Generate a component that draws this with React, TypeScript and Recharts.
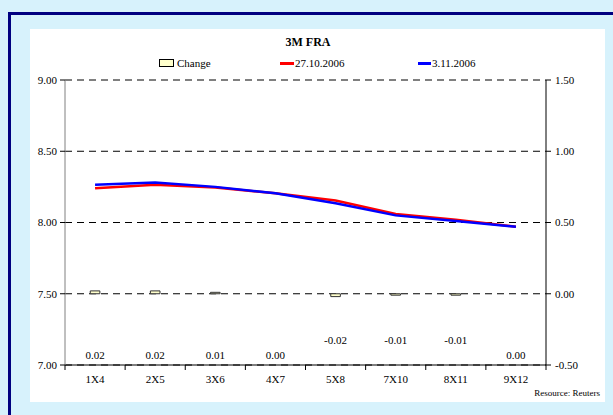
import React from "react";
import {
  Bar,
  CartesianGrid,
  ComposedChart,
  LabelList,
  Line,
  XAxis,
  YAxis,
} from "recharts";

const categories = ["1X4", "2X5", "3X6", "4X7", "5X8", "7X10", "8X11", "9X12"];
const changeValues = [0.02, 0.02, 0.01, 0.0, -0.02, -0.01, -0.01, 0.0];
const rateOct27 = [8.24, 8.265, 8.245, 8.205, 8.155, 8.06, 8.02, 7.97];
const rateNov3 = [8.265, 8.28, 8.25, 8.205, 8.135, 8.05, 8.01, 7.97];
const rateTicks = [7, 7.5, 8, 8.5, 9];
const changeTicks = [-0.5, 0, 0.5, 1, 1.5];

const data = categories.map((name, i) => ({
  name,
  change: changeValues[i],
  oct27: rateOct27[i],
  nov3: rateNov3[i],
}));

const W = 613;
const H = 415;
const PLOT_LEFT = 65;
const PLOT_RIGHT = 546;
const HALF_BAND = (PLOT_RIGHT - PLOT_LEFT) / categories.length / 2;
const FONT = "Liberation Serif, Times New Roman, serif";
const TICK_SIZE = 5;
const TICK_MARGIN = 5;

const CategoryTick = (props: any) => {
  const { x, y, payload, index } = props;
  const axisY = y - TICK_SIZE - TICK_MARGIN;
  return (
    <g>
      <line x1={x - HALF_BAND} x2={x - HALF_BAND} y1={axisY} y2={axisY + 5} stroke="#000" />
      {index === categories.length - 1 && (
        <line x1={x + HALF_BAND} x2={x + HALF_BAND} y1={axisY} y2={axisY + 5} stroke="#000" />
      )}
      <text x={x} y={y} dy="0.71em" textAnchor="middle" fontSize={11} fill="#000" style={{ fontFamily: FONT }}>
        {payload.value}
      </text>
    </g>
  );
};

// change labels sit near the bottom of the plot, negative ones a little higher
const ChangeLabel = (props: any) => {
  const { x, value } = props;
  const cy = value < 0 ? 340 : 355;
  return (
    <text x={x} y={cy} dy="0.35em" textAnchor="middle" fontSize={11} fill="#000" style={{ fontFamily: FONT }}>
      {Number(value).toFixed(2)}
    </text>
  );
};

const legendItem: React.CSSProperties = {
  position: "absolute",
  top: 0,
  display: "flex",
  alignItems: "center",
};

export default function App() {
  return (
    <div
      style={{
        position: "absolute",
        left: 0,
        top: 0,
        width: W,
        height: H,
        background: "#D7F2FC",
        overflow: "hidden",
        fontFamily: FONT,
        color: "#000",
      }}
    >
      <div
        style={{
          position: "absolute",
          left: 8,
          top: 12,
          width: W,
          height: H,
          borderLeft: "3px solid #000080",
          borderTop: "3px solid #000080",
        }}
      />
      <div style={{ position: "absolute", left: 30, top: 29, width: 575, height: 373, background: "#fff" }} />
      <div
        style={{
          position: "absolute",
          left: 0,
          top: 35,
          width: 616,
          textAlign: "center",
          fontSize: 12,
          fontWeight: "bold",
        }}
      >
        3M FRA
      </div>
      <div style={{ position: "absolute", left: 0, top: 57, width: W, height: 14, fontSize: 11 }}>
        <div style={{ ...legendItem, left: 159 }}>
          <span style={{ width: 13, height: 6, background: "#FFFFCC", border: "1px solid #000", marginRight: 3 }} />
          <span>Change</span>
        </div>
        <div style={{ ...legendItem, left: 280 }}>
          <span style={{ width: 14, height: 3, background: "#FF0000", marginRight: 1 }} />
          <span>27.10.2006</span>
        </div>
        <div style={{ ...legendItem, left: 418 }}>
          <span style={{ width: 13, height: 3, background: "#0000FF", marginRight: 1 }} />
          <span>3.11.2006</span>
        </div>
      </div>
      <div style={{ position: "absolute", right: 13, top: 388, fontSize: 9 }}>Resource: Reuters</div>
      <div style={{ position: "absolute", left: 0, top: 0 }}>
        <ComposedChart
          width={W}
          height={H}
          data={data}
          margin={{ top: 80, right: 7, bottom: 20, left: 5 }}
          barCategoryGap="58%"
        >
          <CartesianGrid
            yAxisId="rate"
            horizontal
            vertical={false}
            stroke="#000"
            strokeDasharray="7 5"
            horizontalValues={rateTicks}
          />
          <XAxis
            dataKey="name"
            height={30}
            axisLine={{ stroke: "#000" }}
            tickLine={false}
            tickSize={TICK_SIZE}
            tickMargin={TICK_MARGIN}
            tick={<CategoryTick />}
            interval={0}
          />
          <YAxis
            yAxisId="rate"
            orientation="left"
            width={60}
            domain={[7, 9]}
            ticks={rateTicks}
            tickFormatter={(v: number) => v.toFixed(2)}
            axisLine={{ stroke: "#808080" }}
            tickLine={{ stroke: "#000" }}
            tickSize={5}
            tickMargin={3}
            tick={{ fontSize: 11, fill: "#000", style: { fontFamily: FONT } }}
          />
          <YAxis
            yAxisId="change"
            orientation="right"
            width={60}
            domain={[-0.5, 1.5]}
            ticks={changeTicks}
            tickFormatter={(v: number) => v.toFixed(2)}
            axisLine={{ stroke: "#000" }}
            tickLine={{ stroke: "#000" }}
            tickSize={5}
            tickMargin={4}
            tick={{ fontSize: 11, fill: "#000", style: { fontFamily: FONT } }}
          />
          <Bar
            yAxisId="change"
            dataKey="change"
            name="Change"
            fill="#FFFFCC"
            stroke="#333"
            strokeWidth={1}
            isAnimationActive={false}
          />
          {/* invisible carrier for the change values, so zero bars get a label too */}
          <Line
            yAxisId="change"
            dataKey="change"
            stroke="none"
            dot={false}
            activeDot={false}
            legendType="none"
            isAnimationActive={false}
          >
            <LabelList dataKey="change" content={<ChangeLabel />} />
          </Line>
          <Line
            yAxisId="rate"
            type="linear"
            dataKey="oct27"
            name="27.10.2006"
            stroke="#FF0000"
            strokeWidth={2.5}
            dot={false}
            isAnimationActive={false}
          />
          <Line
            yAxisId="rate"
            type="linear"
            dataKey="nov3"
            name="3.11.2006"
            stroke="#0000FF"
            strokeWidth={2.5}
            dot={false}
            isAnimationActive={false}
          />
        </ComposedChart>
      </div>
    </div>
  );
}
